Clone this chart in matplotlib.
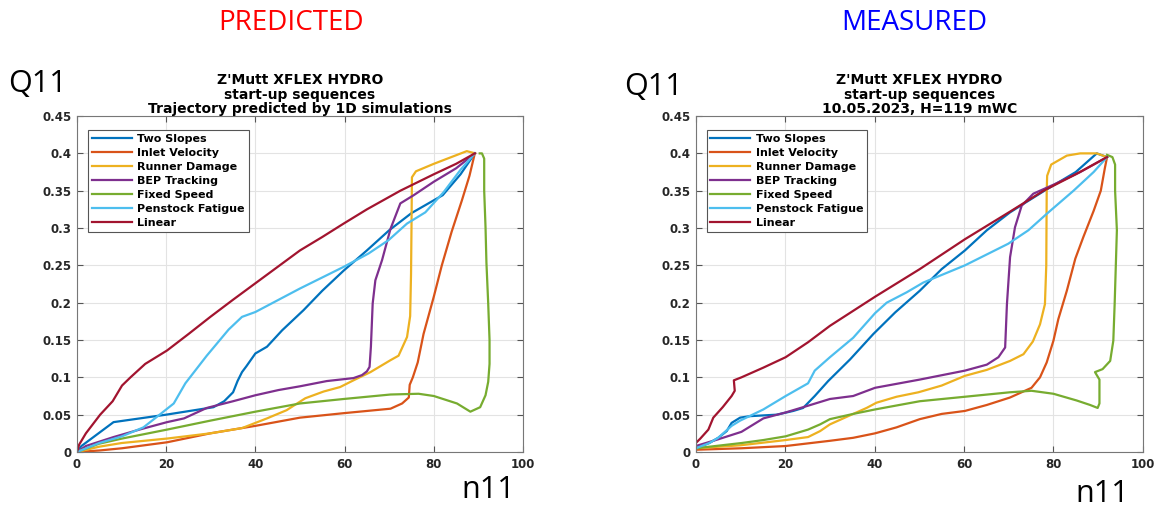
import matplotlib
matplotlib.use('Agg')
import matplotlib.pyplot as plt

# labels and colours (MATLAB default order)
series_names = ['Two Slopes', 'Inlet Velocity', 'Runner Damage', 'BEP Tracking',
                'Fixed Speed', 'Penstock Fatigue', 'Linear']
series_colors = ['#0072BD', '#D95319', '#EDB120', '#7E2F8E', '#77AC30', '#4DBEEE', '#A2142F']
x_ticks = [0, 20, 40, 60, 80, 100]
y_ticks = [0, 0.05, 0.1, 0.15, 0.2, 0.25, 0.3, 0.35, 0.4, 0.45]
y_tick_labels = ['0', '0.05', '0.1', '0.15', '0.2', '0.25', '0.3', '0.35', '0.4', '0.45']

# ---- predicted trajectories (n11, Q11)
pred_two_slopes_x = [0, 1, 8.2, 20, 30.6, 33, 35, 36, 37, 38, 40, 42.6, 46, 50.8, 55, 59.8, 65, 70, 75, 82, 86, 89.2]
pred_two_slopes_y = [0, 0.008, 0.040, 0.050, 0.060, 0.068, 0.080, 0.095, 0.107, 0.115, 0.132, 0.141, 0.163, 0.19,
                     0.216, 0.243, 0.27, 0.297, 0.32, 0.344, 0.372, 0.40]
pred_inlet_x = [0, 5, 10.1, 20.2, 29.9, 40, 50, 59.8, 70.3, 72.9, 74.4, 74.6, 75.3, 76.4, 77.7, 80, 81.8, 84, 86.3, 88, 89.2]
pred_inlet_y = [0, 0.002, 0.005, 0.013, 0.025, 0.035, 0.046, 0.052, 0.058, 0.065, 0.073, 0.09, 0.10, 0.12, 0.158,
                0.208, 0.25, 0.295, 0.337, 0.37, 0.40]
pred_runner_x = [0, 4.9, 10, 20.2, 29.9, 37, 42.6, 47, 51.2, 55.3, 59, 62, 65.8, 70.3, 72.1, 74, 74.7, 74.9, 75, 75.1,
                 76, 80, 87.4, 89.3]
pred_runner_y = [0, 0.007, 0.012, 0.018, 0.025, 0.032, 0.045, 0.056, 0.072, 0.081, 0.087, 0.096, 0.107, 0.123, 0.129,
                 0.154, 0.182, 0.239, 0.30, 0.368, 0.376, 0.386, 0.403, 0.40]
pred_bep_x = [0, 2, 8.2, 14, 20.2, 24, 29.1, 35, 40, 45.2, 50, 56, 62, 63.9, 65, 65.6, 65.9, 66.3, 66.9, 68.4, 70.3,
              72.5, 75.5, 80, 85, 89.2]
pred_bep_y = [0, 0.008, 0.020, 0.030, 0.040, 0.045, 0.059, 0.068, 0.076, 0.083, 0.088, 0.095, 0.099, 0.103, 0.108,
              0.114, 0.141, 0.199, 0.230, 0.257, 0.299, 0.333, 0.344, 0.362, 0.38, 0.40]
pred_fixed_x = [0, 4.9, 10.1, 20.2, 29.9, 40, 50, 59.8, 70.3, 76.6, 80, 85.2, 88.2, 90.4, 91.6, 92.2, 92.5, 92.5, 92.2,
                91.8, 91.6, 91.3, 91.3, 90.8, 90.3]
pred_fixed_y = [0, 0.011, 0.018, 0.030, 0.042, 0.054, 0.065, 0.071, 0.077, 0.078, 0.075, 0.065, 0.054, 0.06, 0.076,
                0.094, 0.118, 0.15, 0.199, 0.254, 0.301, 0.35, 0.393, 0.40, 0.40]
pred_penstock_x = [0, 5, 10.1, 14.9, 17.9, 21.7, 24.3, 29.1, 34, 37, 40, 50, 59.8, 65.4, 69.9, 74, 78.1, 82.2, 86, 89.2]
pred_penstock_y = [0, 0.012, 0.021, 0.033, 0.047, 0.065, 0.092, 0.129, 0.164, 0.181, 0.1875, 0.219, 0.248, 0.266,
                   0.284, 0.306, 0.321, 0.348, 0.378, 0.40]
pred_linear_x = [0, 0.5, 2, 5.2, 8, 10.1, 12, 15.3, 20.2, 25, 29.9, 35, 40, 45, 50, 55, 59.8, 65, 72.5, 80, 85, 89.2]
pred_linear_y = [0, 0.01, 0.025, 0.05, 0.068, 0.089, 0.1, 0.118, 0.136, 0.158, 0.181, 0.204, 0.226, 0.248, 0.27,
                 0.288, 0.306, 0.325, 0.35, 0.372, 0.386, 0.40]

# ---- measured trajectories, 10.05.2023
meas_two_slopes_x = [0, 3, 5, 6.9, 8, 9.9, 12.1, 18.1, 21.8, 24, 26.6, 29.6, 34.5, 39.7, 44.6, 50.1, 55, 60.2, 65.1,
                     70.3, 74, 78, 85, 89.7, 92]
meas_two_slopes_y = [0.005, 0.012, 0.019, 0.028, 0.039, 0.046, 0.048, 0.050, 0.055, 0.059, 0.075, 0.095, 0.124, 0.158,
                     0.187, 0.216, 0.245, 0.27, 0.297, 0.321, 0.335, 0.35, 0.375, 0.40, 0.395]
meas_inlet_x = [0, 10.2, 20.1, 30, 35.2, 40.1, 44.9, 50.1, 55, 60.2, 65.1, 70.3, 75.1, 77, 78.5, 80, 81.1, 83, 84.9,
                86.7, 89, 90.6, 91.5, 92]
meas_inlet_y = [0.003, 0.005, 0.008, 0.015, 0.019, 0.025, 0.033, 0.044, 0.051, 0.055, 0.063, 0.073, 0.086, 0.1, 0.12,
                0.149, 0.178, 0.216, 0.259, 0.288, 0.323, 0.35, 0.38, 0.395]
meas_runner_x = [0, 10, 20.1, 25.1, 27.8, 30, 35.2, 38.2, 40.4, 44.9, 49.8, 55, 60.2, 65.1, 70.3, 73.3, 75.4, 77, 78.1,
                 78.4, 78.5, 78.6, 79.5, 83, 86, 89.7, 92]
meas_runner_y = [0.005, 0.009, 0.016, 0.020, 0.028, 0.037, 0.051, 0.059, 0.066, 0.074, 0.080, 0.089, 0.102, 0.110,
                 0.122, 0.131, 0.148, 0.171, 0.198, 0.25, 0.35, 0.37, 0.385, 0.397, 0.40, 0.40, 0.395]
meas_bep_x = [0, 5, 10.2, 15.1, 20.1, 25.1, 30, 35.2, 40.1, 50.1, 60.2, 65.1, 67.7, 69.2, 69.6, 70.3, 71.4, 72.9, 75.5,
              80, 86, 92]
meas_bep_y = [0.008, 0.017, 0.027, 0.045, 0.053, 0.062, 0.071, 0.075, 0.086, 0.097, 0.109, 0.117, 0.127, 0.14, 0.198,
              0.261, 0.301, 0.33, 0.346, 0.358, 0.375, 0.395]
meas_fixed_x = [0, 10.2, 15.1, 20.1, 25.1, 27.8, 30, 35.2, 40.1, 50.1, 60.2, 70.3, 75.1, 80, 85.2, 88.2, 89.9, 90.3,
                90.3, 89.3, 91, 92.7, 93.4, 93.7, 94.2, 93.8, 93.8, 93.2, 92]
meas_fixed_y = [0.005, 0.012, 0.016, 0.021, 0.030, 0.037, 0.044, 0.051, 0.057, 0.068, 0.074, 0.080, 0.082, 0.078,
                0.069, 0.063, 0.059, 0.065, 0.097, 0.107, 0.111, 0.122, 0.149, 0.198, 0.297, 0.35, 0.385, 0.395, 0.398]
meas_penstock_x = [0, 3, 5, 8, 9.9, 15.1, 20.1, 25.1, 26.6, 30, 35.2, 40.1, 42.7, 47.2, 50.9, 60.2, 69.9, 74.4, 78.5,
                   84.5, 89, 92]
meas_penstock_y = [0.005, 0.012, 0.019, 0.035, 0.042, 0.057, 0.075, 0.092, 0.109, 0.127, 0.153, 0.186, 0.2, 0.214,
                   0.227, 0.25, 0.279, 0.297, 0.319, 0.35, 0.375, 0.395]
meas_linear_x = [0, 0, 1, 2.8, 3.9, 6, 8, 8.7, 8.5, 10.2, 15.1, 20.1, 25.1, 30, 40.1, 50.1, 60.2, 70.3, 77.8, 85, 92]
meas_linear_y = [0.005, 0.012, 0.018, 0.030, 0.046, 0.060, 0.075, 0.082, 0.096, 0.1, 0.113, 0.127, 0.147, 0.169,
                 0.208, 0.245, 0.285, 0.322, 0.35, 0.372, 0.395]

pred_series = [(pred_two_slopes_x, pred_two_slopes_y), (pred_inlet_x, pred_inlet_y), (pred_runner_x, pred_runner_y),
               (pred_bep_x, pred_bep_y), (pred_fixed_x, pred_fixed_y), (pred_penstock_x, pred_penstock_y),
               (pred_linear_x, pred_linear_y)]
meas_series = [(meas_two_slopes_x, meas_two_slopes_y), (meas_inlet_x, meas_inlet_y), (meas_runner_x, meas_runner_y),
               (meas_bep_x, meas_bep_y), (meas_fixed_x, meas_fixed_y), (meas_penstock_x, meas_penstock_y),
               (meas_linear_x, meas_linear_y)]

plt.rcParams['font.family'] = ['DejaVu Sans']

fig = plt.figure(figsize=(11.54, 5.09), dpi=100)
fig.patch.set_facecolor('white')


def draw_panel(ax, series, title):
    for (xs, ys), name, col in zip(series, series_names, series_colors):
        ax.plot(xs, ys, color=col, lw=1.6, label=name)
    ax.set_xlim(0, 100)
    ax.set_ylim(0, 0.45)
    ax.set_xticks(x_ticks)
    ax.set_yticks(y_ticks)
    ax.set_yticklabels(y_tick_labels)
    ax.grid(True, color='#e3e3e3', lw=0.8)
    ax.set_axisbelow(True)
    ax.tick_params(direction='in', top=True, right=True, length=4, color='#555555',
                   labelsize=8.5, pad=4)
    for lab in ax.get_xticklabels() + ax.get_yticklabels():
        lab.set_fontweight('bold')
        lab.set_color('#262626')
    for sp in ax.spines.values():
        sp.set_color('#777777')
        sp.set_linewidth(0.8)
    ax.set_title(title, fontsize=10, fontweight='bold', linespacing=1.05, pad=2)
    leg = ax.legend(loc='upper left', bbox_to_anchor=(0.024, 0.957), borderaxespad=0,
                    prop={'weight': 'bold', 'size': 8}, handlelength=3.6, handletextpad=0.5,
                    labelspacing=0.36, borderpad=0.35, fancybox=False, framealpha=1)
    leg.get_frame().set_edgecolor('#555555')
    leg.get_frame().set_linewidth(0.8)


ax1 = fig.add_axes([0.0667, 0.112, 0.3865, 0.660])
draw_panel(ax1, pred_series,
           "Z'Mutt XFLEX HYDRO\nstart-up sequences\nTrajectory predicted by 1D simulations")
ax2 = fig.add_axes([0.603, 0.112, 0.3873, 0.660])
draw_panel(ax2, meas_series,
           "Z'Mutt XFLEX HYDRO\nstart-up sequences\n10.05.2023, H=119 mWC")

# big slide labels
big = ['Open Sans', 'DejaVu Sans']
fig.text(291 / 1154, 1 - 23 / 509, 'PREDICTED', color='#ff0000', fontsize=20,
         family=big, ha='center', va='center')
fig.text(914 / 1154, 1 - 23 / 509, 'MEASURED', color='#0000ff', fontsize=20,
         family=big, ha='center', va='center')
fig.text(38 / 1154, 1 - 84 / 509, 'Q11', fontsize=22, family=big, ha='center', va='center')
fig.text(654 / 1154, 1 - 87 / 509, 'Q11', fontsize=22, family=big, ha='center', va='center')
fig.text(488 / 1154, 1 - 490 / 509, 'n11', fontsize=22, family=big, ha='center', va='center')
fig.text(1102 / 1154, 1 - 494 / 509, 'n11', fontsize=22, family=big, ha='center', va='center')

fig.savefig('out.png', dpi=100)
